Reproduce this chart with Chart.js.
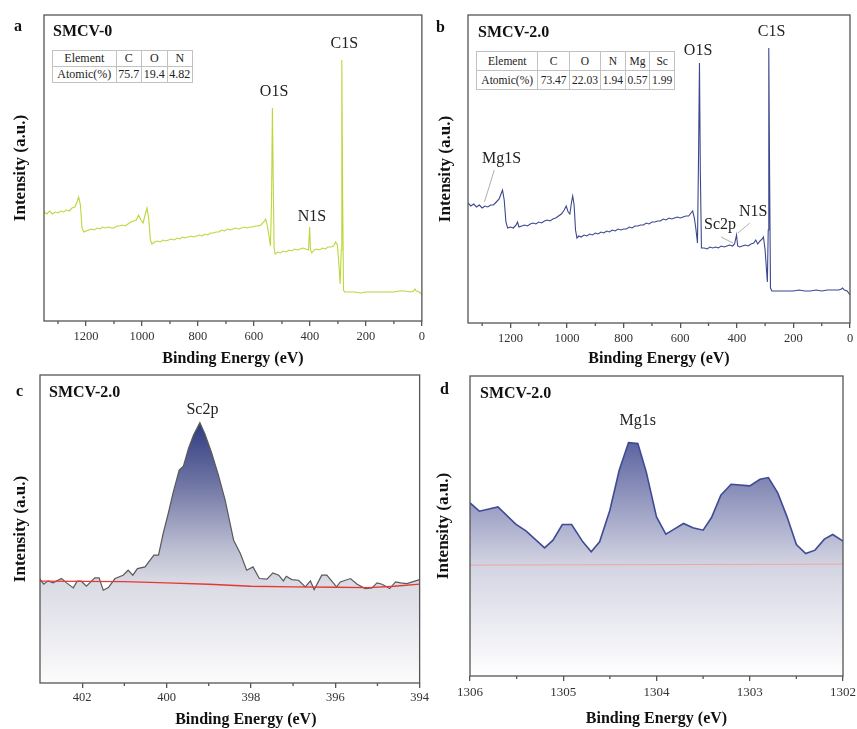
<!DOCTYPE html>
<html>
<head>
<meta charset="utf-8">
<script src="https://cdn.jsdelivr.net/npm/chart.js@4.4.1/dist/chart.umd.min.js"></script>
<style>
  body { margin: 0; background: #fff; width: 857px; height: 729px; position: relative; overflow: hidden;
         font-family: 'Liberation Serif', 'Times New Roman', serif; color: #111; }
  canvas { position: absolute; }
  .tag { position: absolute; font-weight: bold; font-size: 16px; line-height: 1; transform: translateY(-50%); white-space: nowrap; }
  table { position: absolute; border-collapse: collapse; background: #fff; color: #222; }
  td { border: 1px solid #c2c2c2; text-align: center; padding: 0; white-space: nowrap; }
</style>
</head>
<body>
<canvas id="chartA" width="428" height="368" style="left:0;top:0"></canvas>
<canvas id="chartB" width="429" height="368" style="left:428px;top:0"></canvas>
<canvas id="chartC" width="431" height="361" style="left:0;top:368px"></canvas>
<canvas id="chartD" width="432" height="361" style="left:428px;top:368px"></canvas>

<div class="tag" style="left:14px;top:26px">a</div>
<div class="tag" style="left:53px;top:31px">SMCV-0</div>
<div class="tag" style="left:436px;top:27px">b</div>
<div class="tag" style="left:478px;top:32px">SMCV-2.0</div>
<div class="tag" style="left:16px;top:391px">c</div>
<div class="tag" style="left:49px;top:392px">SMCV-2.0</div>
<div class="tag" style="left:440px;top:389px">d</div>
<div class="tag" style="left:480px;top:393px">SMCV-2.0</div>

<table id="tableA" style="left:52px;top:50px;width:141px;font-size:12px"></table>
<table id="tableB" style="left:476px;top:51px;width:199px;font-size:11.5px"></table>

<script>
// ---- composition tables ----
const elementsA = ['C', 'O', 'N'];
const atomicA   = ['75.7', '19.4', '4.82'];
const elementsB = ['C', 'O', 'N', 'Mg', 'Sc'];
const atomicB   = ['73.47', '22.03', '1.94', '0.57', '1.99'];

// ---- (a) survey SMCV-0 ----
const energyA = [1350,1340,1330,1320,1310,1300,1290,1280,1270,1260,1250,1240,1232,1226,1220,1214,1208,1200,1190,1180,
  1170,1160,1150,1140,1130,1120,1110,1100,1090,1080,1070,1060,1050,1040,1030,1020,1012,1004,996,988,
  982,976,970,964,955,945,935,925,915,905,895,885,875,865,855,845,835,825,815,805,
  795,785,775,765,755,745,735,725,715,705,695,685,675,665,655,645,635,625,615,605,
  595,585,575,565,558,552,546,541,537,534,531,528,524,515,505,495,485,475,465,455,
  445,435,425,415,405,401,398,393,385,375,365,355,345,335,325,315,308,302,297,292,
  288,286,283,280,276,260,240,220,200,180,160,140,120,100,80,60,40,30,25,20,10,5,0];
const countsA = [109,107,110,107,109,108,110,109,111,110,113,114,119,124,116,93,89,90,91,92,
  91,93,92,94,93,94,93,93,95,95,96,95,97,99,100,101,106,101,98,107,
  113,103,81,77,79,80,79,81,80,81,82,81,83,82,84,83,84,85,84,85,
  86,85,87,86,88,88,89,89,91,90,92,91,92,93,92,93,94,93,94,94,
  95,95,96,99,102,95,85,75,121,213,141,73,67,69,68,70,69,71,70,72,
  71,72,73,72,71,94,71,68,71,72,71,73,72,74,74,75,79,76,59,37,
  71,261,121,31,29,29,29,28,29,29,29,29,29,29,30,30,29,30,32,30,29,28,26];

// ---- (b) survey SMCV-2.0 ----
const energyB = [1350,1340,1330,1320,1310,1300,1290,1280,1270,1260,1250,1240,1232,1228,1222,1216,1210,1200,1190,1180,
  1175,1170,1160,1150,1140,1130,1120,1110,1100,1090,1080,1070,1060,1050,1040,1030,1020,1010,1003,996,
  990,984,980,975,970,965,958,950,940,930,920,910,900,890,880,870,860,850,840,830,
  820,810,800,790,780,770,760,750,740,730,720,710,700,690,680,670,660,650,640,630,
  620,610,600,590,580,570,562,556,550,545,539,535,532,529,525,515,505,495,485,475,
  465,455,445,435,425,415,408,401,397,390,380,370,360,350,340,333,326,318,310,306,
  300,295,292,289,287,284,281,276,260,240,220,200,180,160,140,120,100,80,60,40,30,26,20,10,0];
const countsB = [120,117,119,116,118,115,117,116,118,118,121,124,130,133,123,101,95,96,95,98,
  101,96,97,98,97,99,100,99,101,100,102,103,102,104,105,107,109,113,117,111,
  109,121,127,118,93,85,87,86,88,87,89,88,90,89,91,90,92,91,93,92,
  94,93,94,94,96,95,97,97,98,98,100,99,101,101,102,102,104,103,105,104,
  105,106,105,106,107,107,110,112,105,95,80,173,260,153,75,75,74,76,75,76,
  75,77,76,77,78,77,79,88,77,76,77,78,77,79,80,83,79,82,84,86,
  73,53,41,93,275,143,35,32,32,32,32,32,33,32,32,33,32,33,33,33,34,35,33,32,28];

// ---- (c) Sc2p high resolution ----
const energyC = [403.01,402.91,402.81,402.69,402.49,402.37,402.21,402.12,402.02,401.90,401.70,401.60,401.50,401.38,401.22,
  401.03,400.91,400.80,400.69,400.51,400.30,400.19,400.08,399.96,399.84,399.70,399.60,399.48,399.36,399.21,
  399.09,398.94,398.77,398.61,398.41,398.25,398.10,397.95,397.80,397.62,397.48,397.34,397.23,397.16,397.03,
  396.87,396.71,396.59,396.50,396.32,396.20,395.97,395.88,395.64,395.48,395.29,395.13,395.01,394.89,394.71,
  394.57,394.45,394.30,394.00];
const countsC = [313,296,306,300,313,300,285,305,305,290,315,315,278,286,313,
  323,338,323,343,348,383,383,448,508,573,638,650,703,743,780,
  746,693,623,548,428,388,338,348,313,311,330,323,306,320,310,
  308,288,306,280,323,323,288,303,313,296,283,285,300,296,283,
  303,300,298,310];
const bgEnergyC = [403, 401, 400, 399, 398, 397, 396, 395.2, 394.6, 394];
const bgCountsC = [305, 304, 300, 296, 290, 288, 287, 286, 290, 296];

// ---- (d) Mg1s high resolution ----
const energyD = [1306.00,1305.90,1305.70,1305.51,1305.40,1305.20,1305.11,1305.01,1304.91,1304.79,1304.70,1304.61,
  1304.50,1304.40,1304.30,1304.20,1304.11,1304.00,1303.90,1303.81,1303.71,1303.61,1303.50,1303.41,1303.31,
  1303.20,1303.00,1302.89,1302.80,1302.70,1302.60,1302.50,1302.40,1302.30,1302.20,1302.11,1302.00];
const countsD = [520,495,508,456,436,385,408,455,455,403,373,403,
  498,618,701,698,613,478,426,441,458,445,438,476,543,
  576,571,591,596,550,478,395,368,378,411,425,405];
const bgEnergyD = [1306, 1302];
const bgCountsD = [333, 336];

// ---- tables ----
function fillTable(id, elements, values, rowH) {
  const t = document.getElementById(id);
  const r1 = '<tr style="height:' + rowH + 'px"><td>Element</td>' + elements.map(e => '<td>' + e + '</td>').join('') + '</tr>';
  const r2 = '<tr style="height:' + rowH + 'px"><td>Atomic(%)</td>' + values.map(v => '<td>' + v + '</td>').join('') + '</tr>';
  t.innerHTML = r1 + r2;
}
fillTable('tableA', elementsA, atomicA, 16);
fillTable('tableB', elementsB, atomicB, 19);

// ---- plugins ----
Chart.defaults.font.family = "'Liberation Serif', 'Times New Roman', serif";
Chart.defaults.color = '#333';

const frame = {
  id: 'frame',
  afterDraw(chart, args, opts) {
    const { ctx, chartArea: a, scales: { x } } = chart;
    ctx.save();
    ctx.strokeStyle = '#555';
    ctx.lineWidth = 1.3;
    ctx.strokeRect(a.left, a.top, a.right - a.left, a.bottom - a.top);
    ctx.beginPath();
    (opts.minor || []).forEach(v => {
      const px = x.getPixelForValue(v);
      ctx.moveTo(px, a.bottom);
      ctx.lineTo(px, a.bottom + 3);
    });
    ctx.stroke();
    ctx.restore();
  }
};

const peakLabels = {
  id: 'peakLabels',
  afterDatasetsDraw(chart, args, opts) {
    const { ctx, scales: { x, y } } = chart;
    ctx.save();
    ctx.strokeStyle = '#9a9a9a';
    ctx.lineWidth = 0.8;
    (opts.leaders || []).forEach(l => {
      ctx.beginPath();
      ctx.moveTo(x.getPixelForValue(l[0]), y.getPixelForValue(l[1]));
      ctx.lineTo(x.getPixelForValue(l[2]), y.getPixelForValue(l[3]));
      ctx.stroke();
    });
    ctx.font = "16px 'Liberation Serif'";
    ctx.fillStyle = '#222';
    ctx.textAlign = 'center';
    ctx.textBaseline = 'middle';
    (opts.items || []).forEach(it => {
      ctx.fillText(it.text, x.getPixelForValue(it.e), y.getPixelForValue(it.i));
    });
    ctx.restore();
  }
};

function pts(xs, ys) {
  return xs.map((v, i) => ({ x: v, y: ys[i] }));
}

function areaGradient(stops) {
  return ctx => {
    const a = ctx.chart.chartArea;
    if (!a) return null;
    const g = ctx.chart.ctx.createLinearGradient(0, a.top, 0, a.bottom);
    stops.forEach(s => g.addColorStop(s[0], s[1]));
    return g;
  };
}

function makeChart(id, o) {
  return new Chart(document.getElementById(id), {
    type: 'line',
    data: { datasets: o.datasets },
    plugins: [frame, peakLabels],
    options: {
      responsive: false,
      animation: false,
      layout: { padding: { top: o.pad[0], right: o.pad[1], left: 0, bottom: 0 } },
      elements: { point: { radius: 0 }, line: { tension: 0 } },
      plugins: {
        legend: { display: false },
        tooltip: { enabled: false },
        frame: { minor: o.minor },
        peakLabels: { items: o.labels, leaders: o.leaders || [] }
      },
      scales: {
        x: {
          type: 'linear',
          reverse: true,
          min: o.xMin,
          max: o.xMax,
          afterFit: s => { s.height = o.xH; },
          border: { display: false },
          grid: { display: true, drawOnChartArea: false, drawTicks: true, tickLength: 5, color: '#555', lineWidth: 1.3 },
          ticks: { stepSize: o.step, includeBounds: false, maxRotation: 0, autoSkip: false,
                   callback: v => String(v),
                   padding: o.tickPad, color: '#333', font: { size: o.tickSize } },
          title: { display: true, text: o.xTitle || 'Binding Energy (eV)', color: '#111',
                   font: { size: 16, weight: 'bold' }, padding: { top: 0, bottom: o.xTitlePad } }
        },
        y: {
          min: 0,
          max: o.yMax,
          afterFit: s => { s.width = o.yW; },
          border: { display: false },
          grid: { display: false },
          ticks: { display: false },
          title: { display: true, text: 'Intensity (a.u.)', color: '#111',
                   font: { size: 17, weight: 'bold' }, padding: { top: o.yTitlePad, bottom: 0 } }
        }
      }
    }
  });
}

makeChart('chartA', {
  datasets: [{ data: pts(energyA, countsA), borderColor: '#bcd63c', borderWidth: 1.1, fill: false }],
  xMin: 0, xMax: 1350, step: 200, yMax: 306,
  minor: [100, 300, 500, 700, 900, 1100, 1300],
  pad: [15, 4], xH: 47, yW: 44, tickPad: 3, tickSize: 12.5, xTitlePad: 0, yTitlePad: 10,
  labels: [
    { text: 'C1S', e: 277, i: 277 },
    { text: 'O1S', e: 528, i: 229 },
    { text: 'N1S', e: 393, i: 104 }
  ]
});

makeChart('chartB', {
  datasets: [{ data: pts(energyB, countsB), borderColor: '#3c478e', borderWidth: 1.1, fill: false }],
  xMin: 0, xMax: 1350, step: 200, yMax: 308,
  minor: [100, 300, 500, 700, 900, 1100, 1300],
  pad: [15, 7], xH: 45, yW: 40, tickPad: 3, tickSize: 12.5, xTitlePad: 0, yTitlePad: 7,
  labels: [
    { text: 'Mg1S', e: 1231, i: 164 },
    { text: 'Sc2p', e: 459, i: 98 },
    { text: 'N1S', e: 342, i: 111 },
    { text: 'O1S', e: 537, i: 272 },
    { text: 'C1S', e: 277, i: 291 }
  ],
  leaders: [[1257, 153, 1292, 121], [456, 86, 413, 80], [354, 100, 396, 90]]
});

makeChart('chartC', {
  datasets: [
    { data: pts(energyC, countsC), borderColor: '#5a5a5a', borderWidth: 1.2, fill: 'origin', order: 1,
      backgroundColor: areaGradient([[0, '#27337a'], [0.15, '#2e3a80'], [0.35, '#6e74a3'], [0.55, '#b7b9cf'], [0.67, '#d9dae3'], [1, '#fcfcfd']]) },
    { data: pts(bgEnergyC, bgCountsC), borderColor: '#e53935', borderWidth: 1.3, fill: false, order: 0 }
  ],
  xMin: 394, xMax: 403, step: 2, yMax: 923,
  minor: [401, 399, 397, 395],
  pad: [7, 6], xH: 46, yW: 40, tickPad: 2, tickSize: 12.5, xTitlePad: 0, yTitlePad: 10,
  xTitle: '        Binding Energy (eV)',
  labels: [{ text: 'Sc2p', e: 399.15, i: 818 }]
});

makeChart('chartD', {
  datasets: [
    { data: pts(energyD, countsD), borderColor: '#3f4b94', borderWidth: 1.6, fill: 'origin', order: 1,
      backgroundColor: areaGradient([[0, '#4a5396'], [0.22, '#5c64a0'], [0.63, '#d3d4e2'], [1, '#ffffff']]) },
    { data: pts(bgEnergyD, bgCountsD), borderColor: '#f0a4a4', borderWidth: 1, fill: false, order: 0 }
  ],
  xMin: 1302, xMax: 1306, step: 1, yMax: 901,
  minor: [1305.5, 1304.5, 1303.5, 1302.5],
  pad: [8, 14], xH: 53, yW: 42, tickPad: 4, tickSize: 13, xTitlePad: 1, yTitlePad: 5,
  labels: [{ text: 'Mg1s', e: 1304.2, i: 766 }]
});
</script>
</body>
</html>
